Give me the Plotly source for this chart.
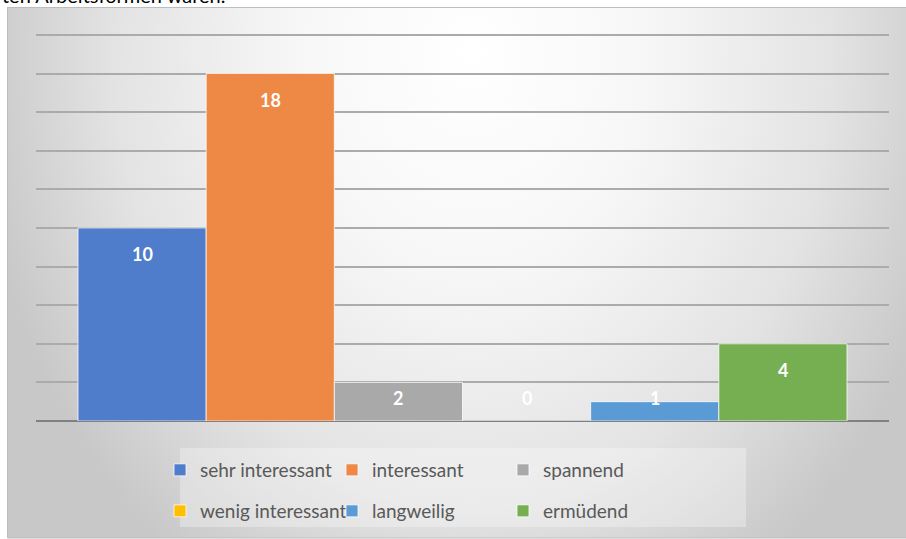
import base64
import plotly.graph_objects as go

# ---------------- data ----------------
categories = ["sehr interessant", "interessant", "spannend",
              "wenig interessant", "langweilig", "ermüdend"]
values = [10, 18, 2, 0, 1, 4]
colors = ["#4F7DCB", "#EE8845", "#A9A9A9", "#FFC000", "#5B9BD5", "#76AF52"]
title_fragment = "ten Arbeitsformen waren."

# ---------------- geometry (pixels) ----------------
W, H = 906, 539
ML, MR, MT, MB = 36, 17, 32, 118
PW = W - ML - MR
PH = H - MT - MB


def px(X):
    return (X - ML) / PW


def py(Y):
    return (H - MB - Y) / PH


FONT = "Lato, 'Open Sans', sans-serif"

fig = go.Figure()

legend_cols = [160, 332, 503]      # left pixel of legend entries
legend_rows = [470, 511]           # centre pixel of legend rows

for i, (cat, val, col) in enumerate(zip(categories, values, colors)):
    lname = "legend" if i == 0 else f"legend{i + 1}"
    fig.add_trace(go.Bar(
        x=[i], y=[val], name=cat, width=1.0,
        marker=dict(color=col, line=dict(color="rgba(255,255,255,0.75)", width=1)),
        legend=lname, hoverinfo="name+y",
    ))

# data labels
annotations = []
for i, val in enumerate(values):
    big = val >= 3
    annotations.append(dict(
        x=i, y=val if big else 0, xref="x", yref="y",
        text=f"<b>{val}</b>", showarrow=False,
        yanchor="middle", yshift=-26 if big else 23,
        font=dict(family=FONT, size=18, color="white"),
    ))

# cut-off caption fragment at the very top
annotations.append(dict(
    x=px(0), y=py(9), xref="paper", yref="paper", xanchor="left", yanchor="bottom",
    text=title_fragment, showarrow=False,
    font=dict(family=FONT, size=20, color="#000000"),
))

# radial gradient background as an SVG image
bx0, by0, bx1, by1 = 7, 7, 906, 538
bw, bh = bx1 - bx0, by1 - by0
cx, cy, r, k = 465, 45, 500, 1.25
svg = f'''<svg xmlns="http://www.w3.org/2000/svg" width="{bw}" height="{bh}" viewBox="0 0 {bw} {bh}" preserveAspectRatio="none">
<defs><radialGradient id="g" gradientUnits="userSpaceOnUse" cx="{cx}" cy="{cy}" r="{r}" gradientTransform="translate({cx} {cy}) scale(1 {k}) translate({-cx} {-cy})">
<stop offset="0" stop-color="#ffffff"/>
<stop offset="0.35" stop-color="#f7f7f7"/>
<stop offset="0.72" stop-color="#e3e3e3"/>
<stop offset="1" stop-color="#c8c8c8"/>
</radialGradient></defs>
<rect x="0" y="0" width="{bw}" height="{bh}" fill="url(#g)"/></svg>'''
src = "data:image/svg+xml;base64," + base64.b64encode(svg.encode()).decode()

images = [dict(
    source=src, xref="paper", yref="paper",
    x=px(bx0), y=py(by0), sizex=bw / PW, sizey=bh / PH,
    xanchor="left", yanchor="top", sizing="stretch", layer="below",
)]

shapes = [
    dict(type="rect", xref="paper", yref="paper",
         x0=px(bx0 + 0.5), x1=px(bx1 + 2), y0=py(by0 + 0.5), y1=py(by1),
         line=dict(color="#bdbdbd", width=1), fillcolor="rgba(0,0,0,0)", layer="below"),
    dict(type="rect", xref="paper", yref="paper",
         x0=px(180), x1=px(746), y0=py(448), y1=py(527),
         line=dict(width=0), fillcolor="rgba(255,255,255,0.3)", layer="below"),
]

layout_legends = {}
for i in range(len(categories)):
    lname = "legend" if i == 0 else f"legend{i + 1}"
    layout_legends[lname] = dict(
        x=px(legend_cols[i % 3]), y=py(legend_rows[i // 3]),
        xanchor="left", yanchor="middle", orientation="h",
        bgcolor="rgba(0,0,0,0)", borderwidth=0,
        font=dict(family=FONT, size=19, color="#595959"),
    )

fig.update_layout(
    width=W, height=H,
    margin=dict(l=ML, r=MR, t=MT, b=MB, pad=0, autoexpand=False),
    paper_bgcolor="white", plot_bgcolor="rgba(0,0,0,0)",
    barmode="overlay", showlegend=True,
    xaxis=dict(range=[-0.8277, 5.8277], showticklabels=False, showgrid=False,
               zeroline=False, showline=False, ticks=""),
    yaxis=dict(range=[0, 20.15], dtick=2, showticklabels=False, showgrid=True,
               gridcolor="#ababab", gridwidth=2, zeroline=True,
               zerolinecolor="#808080", zerolinewidth=2, showline=False, ticks=""),
    annotations=annotations, images=images, shapes=shapes,
    **layout_legends,
)

fig.write_html("out.html")
